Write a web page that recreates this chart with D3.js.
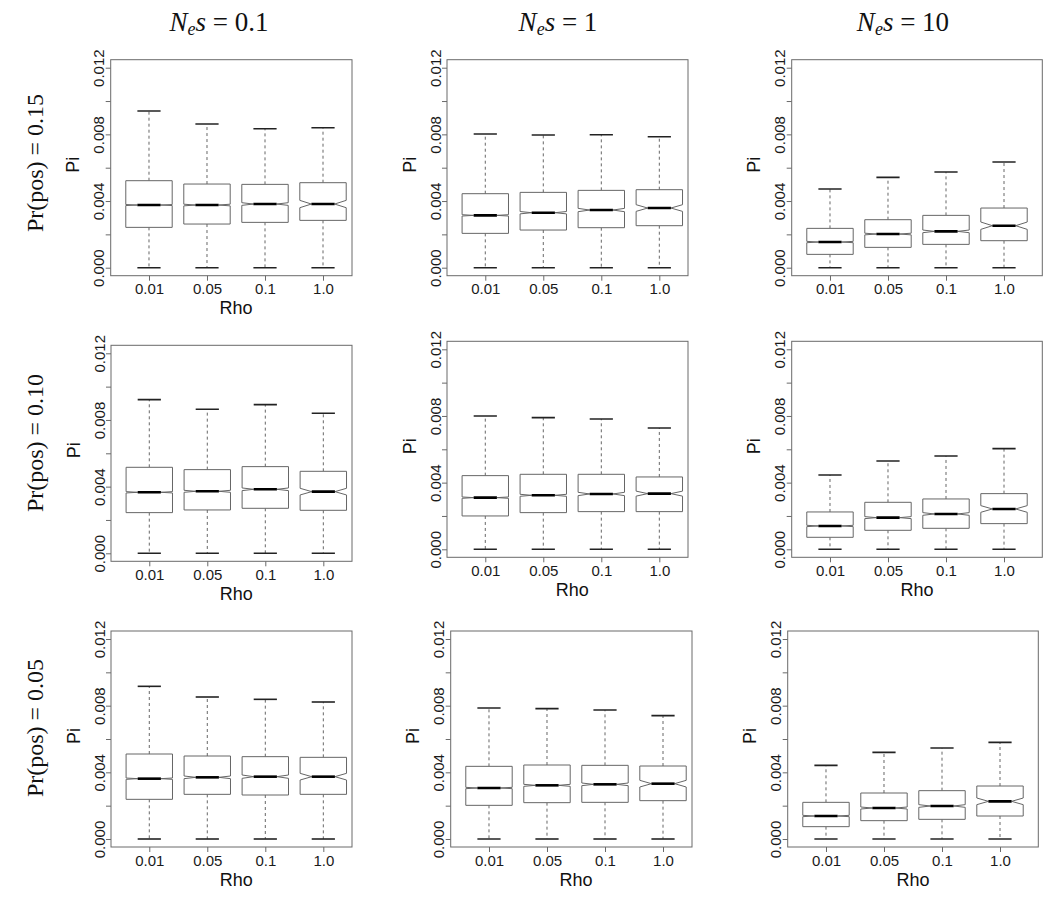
<!DOCTYPE html>
<html><head><meta charset="utf-8">
<script src="https://cdn.jsdelivr.net/npm/d3@7"></script>
<style>body{margin:0;background:#fff}</style>
</head><body><svg id="c" width="1050" height="898"></svg>
<script>
// ---------------- data ----------------
const rhoLabels = ["0.01", "0.05", "0.1", "1.0"];
const colNes = ["0.1", "1", "10"];
const rowTitles = ["Pr(pos) = 0.15", "Pr(pos) = 0.10", "Pr(pos) = 0.05"];
const yTickValues = [0, 0.002, 0.004, 0.006, 0.008, 0.010, 0.012];
const yTickLabelled = ["0.000", "", "0.004", "", "0.008", "", "0.012"];

// panels in reading order: r1c1, r1c2, r1c3, r2c1, ... (values x 1e-3)
const whiskerHigh = [
  [9.40, 8.62, 8.34, 8.40], [8.02, 7.96, 7.98, 7.86], [4.72, 5.42, 5.74, 6.34],
  [9.22, 8.64, 8.92, 8.40], [8.00, 7.90, 7.82, 7.28], [4.46, 5.30, 5.60, 6.04],
  [9.16, 8.52, 8.38, 8.22], [7.86, 7.82, 7.74, 7.40], [4.42, 5.20, 5.46, 5.80]
];
const upperHinge = [
  [5.22, 5.02, 5.00, 5.10], [4.44, 4.52, 4.64, 4.68], [2.36, 2.88, 3.14, 3.58],
  [5.16, 5.02, 5.20, 4.92], [4.42, 4.50, 4.50, 4.34], [2.24, 2.82, 3.02, 3.34],
  [5.10, 4.98, 4.94, 4.90], [4.36, 4.44, 4.42, 4.38], [2.20, 2.76, 2.90, 3.18]
];
const medians = [
  [3.76, 3.76, 3.82, 3.82], [3.14, 3.30, 3.46, 3.58], [1.54, 2.02, 2.18, 2.52],
  [3.66, 3.72, 3.84, 3.70], [3.10, 3.24, 3.32, 3.34], [1.40, 1.90, 2.12, 2.42],
  [3.62, 3.70, 3.74, 3.74], [3.06, 3.22, 3.28, 3.32], [1.38, 1.86, 1.98, 2.26]
];
const lowerHinge = [
  [2.42, 2.62, 2.72, 2.84], [2.06, 2.26, 2.40, 2.52], [0.80, 1.22, 1.40, 1.62],
  [2.44, 2.60, 2.70, 2.58], [2.00, 2.20, 2.26, 2.26], [0.72, 1.14, 1.26, 1.54],
  [2.38, 2.68, 2.64, 2.68], [2.02, 2.18, 2.20, 2.30], [0.74, 1.10, 1.18, 1.38]
];
const whiskerLow = [
  [0, 0, 0, 0], [0, 0, 0, 0], [0, 0, 0, 0],
  [0, 0, 0, 0], [0, 0, 0, 0], [0, 0, 0, 0],
  [0, 0, 0, 0], [0, 0, 0, 0], [0, 0, 0, 0]
];
const notchHalf = [
  [0.03, 0.05, 0.08, 0.22], [0.04, 0.07, 0.10, 0.20], [0.04, 0.05, 0.08, 0.22],
  [0.04, 0.06, 0.08, 0.20], [0.04, 0.06, 0.10, 0.15], [0.04, 0.06, 0.08, 0.20],
  [0.04, 0.08, 0.10, 0.20], [0.04, 0.06, 0.08, 0.20], [0.04, 0.06, 0.08, 0.20]
];

// ---------------- layout ----------------
const PW = 250.6, PH = 216;
const panelLeft = [110.7, 447, 791.7, 111, 447, 791.7, 111, 450.7, 787.7];
const panelTop  = [59.7, 59.7, 59.7, 345.3, 341.3, 341.3, 631, 631, 631];
const panelRight = [352, 688, 1042.3, 352, 688, 1042.3, 352, 692, 1038.3];
const showRho = [true, false, false, true, true, true, true, true, true];

const svg = d3.select("#c");
const sans = "'Liberation Sans', Arial, Helvetica, sans-serif";
const serif = "'Liberation Serif', 'Times New Roman', serif";
const frameCol = "#6a6a6a";

for (let p = 0; p < 9; p++) {
  const L = panelLeft[p], T = panelTop[p], R = panelRight[p];
  const x = d3.scaleLinear().domain([0.34, 4.66]).range([L, L + PW]);
  const y = d3.scaleLinear().domain([-0.00048, 0.01248]).range([T + PH, T]);
  const g = svg.append("g");

  const clipId = "clip" + p;
  svg.append("clipPath").attr("id", clipId).append("rect")
    .attr("x", L - 1).attr("y", T - 1).attr("width", R - L + 2).attr("height", PH + 2);

  // y axis
  const ya = d3.axisLeft(y).tickValues(yTickValues).tickSize(5).tickSizeOuter(0)
    .tickFormat((d, i) => yTickLabelled[i]);
  const yg = g.append("g").attr("transform", `translate(${L},0)`).call(ya);
  yg.select(".domain").remove();
  yg.selectAll(".tick line").attr("stroke", frameCol);
  yg.selectAll(".tick text")
    .attr("transform", "rotate(-90)")
    .attr("x", 0).attr("y", -6.5).attr("dy", null)
    .attr("text-anchor", "middle")
    .attr("font-family", sans).attr("font-size", 15).attr("fill", "#1a1a1a");

  // x axis
  const xa = d3.axisBottom(x).tickValues([1, 2, 3, 4]).tickSize(5).tickSizeOuter(0).tickPadding(3)
    .tickFormat((d, i) => rhoLabels[i]);
  const xg = g.append("g").attr("transform", `translate(0,${T + PH})`).call(xa);
  xg.select(".domain").remove();
  xg.selectAll(".tick line").attr("stroke", frameCol);
  xg.selectAll(".tick text").attr("font-family", sans).attr("font-size", 15).attr("fill", "#1a1a1a");

  // frame
  g.append("rect").attr("x", L).attr("y", T).attr("width", R - L).attr("height", PH)
    .attr("fill", "none").attr("stroke", frameCol).attr("stroke-width", 1);

  // axis titles
  g.append("text").attr("transform", `translate(${L - 31.5},${T + PH / 2 - 3}) rotate(-90)`)
    .attr("text-anchor", "middle").attr("font-family", sans).attr("font-size", 18)
    .attr("fill", "#111").text("Pi");
  if (showRho[p]) {
    g.append("text").attr("x", (x(1) + x(4)) / 2).attr("y", T + PH + 38.5)
      .attr("text-anchor", "middle").attr("font-family", sans).attr("font-size", 18)
      .attr("fill", "#111").text("Rho");
  }

  // boxes
  const bg = g.append("g").attr("clip-path", `url(#${clipId})`);
  const wid = 0.4, wn = 0.2, st = 0.2;
  for (let i = 0; i < 4; i++) {
    const c = i + 1;
    const hi = whiskerHigh[p][i] / 1000, q3 = upperHinge[p][i] / 1000,
      md = medians[p][i] / 1000, q1 = lowerHinge[p][i] / 1000,
      lo = whiskerLow[p][i] / 1000, nh = notchHalf[p][i] / 1000;
    [[q3, hi], [q1, lo]].forEach(([a, b]) => {
      bg.append("line").attr("x1", x(c)).attr("x2", x(c)).attr("y1", y(a)).attr("y2", y(b))
        .attr("stroke", "#666").attr("stroke-width", 1).attr("stroke-dasharray", "3,3");
    });
    [hi, lo].forEach(v => {
      bg.append("line").attr("x1", x(c - st)).attr("x2", x(c + st)).attr("y1", y(v)).attr("y2", y(v))
        .attr("stroke", "#222").attr("stroke-width", 1.6);
    });
    const pts = [
      [c - wid, q1], [c - wid, md - nh], [c - wn, md], [c - wid, md + nh], [c - wid, q3],
      [c + wid, q3], [c + wid, md + nh], [c + wn, md], [c + wid, md - nh], [c + wid, q1]
    ];
    bg.append("path")
      .attr("d", d3.line().x(d => x(d[0])).y(d => y(d[1]))(pts) + "Z")
      .attr("fill", "#fff").attr("stroke", "#666").attr("stroke-width", 1);
    bg.append("line").attr("x1", x(c - wn)).attr("x2", x(c + wn)).attr("y1", y(md)).attr("y2", y(md))
      .attr("stroke", "#000").attr("stroke-width", 2.6);
  }
}

// column titles
const colCenters = [219, 558, 903];
colNes.forEach((v, i) => {
  const t = svg.append("text").attr("x", colCenters[i]).attr("y", 31)
    .attr("text-anchor", "middle").attr("font-family", serif).attr("font-size", 27).attr("fill", "#111");
  t.append("tspan").attr("font-style", "italic").text("N");
  t.append("tspan").attr("font-style", "italic").attr("font-size", 18).attr("dy", 4).text("e");
  t.append("tspan").attr("font-style", "italic").attr("dy", -4).text("s");
  t.append("tspan").text(" = " + v);
});

// row titles
const rowCenters = [163, 443, 728];
rowTitles.forEach((r, i) => {
  svg.append("text").attr("transform", `translate(43,${rowCenters[i]}) rotate(-90)`)
    .attr("text-anchor", "middle").attr("font-family", serif).attr("font-size", 24)
    .attr("fill", "#111").text(r);
});
</script></body></html>
